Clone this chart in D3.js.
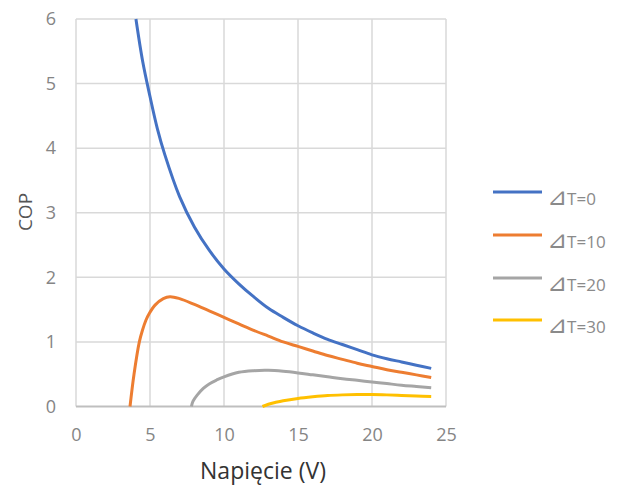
<!DOCTYPE html>
<html><head><meta charset="utf-8">
<script src="https://cdn.jsdelivr.net/npm/d3@7"></script>
<style>body{margin:0;background:#fff}svg{display:block}</style>
</head><body><svg id="c" width="628" height="489"></svg>
<script>
const seriesNames = ["⊿T=0", "⊿T=10", "⊿T=20", "⊿T=30"];
const seriesColors = ["#4472C4", "#ED7D31", "#A5A5A5", "#FFC000"];
const xTicks = [0, 5, 10, 15, 20, 25];
const yTicks = [0, 1, 2, 3, 4, 5, 6];
const xTitle = "Napięcie (V)";
const yTitle = "COP";

const v0 = [4.05, 4.5, 5, 5.5, 6, 7, 8, 9, 10, 11, 12, 13, 14, 15, 16, 17, 18, 19, 20, 21, 22, 23, 24];
const cop0 = [6.00, 5.35, 4.80, 4.30, 3.90, 3.25, 2.78, 2.42, 2.13, 1.90, 1.70, 1.52, 1.38, 1.25, 1.14, 1.04, 0.96, 0.88, 0.80, 0.74, 0.69, 0.64, 0.59];

const v10 = [3.65, 3.92, 4.28, 4.49, 4.73, 4.95, 5.34, 5.9, 6.35, 7, 8, 9, 10, 11, 12, 13, 14, 15, 16, 17, 18, 19, 20, 21, 22, 23, 24];
const cop10 = [0, 0.5, 1.0, 1.18, 1.34, 1.44, 1.57, 1.67, 1.70, 1.67, 1.58, 1.48, 1.38, 1.28, 1.18, 1.09, 1.00, 0.93, 0.86, 0.79, 0.73, 0.67, 0.62, 0.57, 0.53, 0.49, 0.45];

const v20 = [7.8, 7.9, 8.2, 8.6, 9, 9.5, 10, 11, 12, 13, 14, 15, 16, 17, 18, 19, 20, 21, 22, 23, 24];
const cop20 = [0, 0.08, 0.18, 0.28, 0.35, 0.41, 0.46, 0.53, 0.555, 0.56, 0.545, 0.52, 0.49, 0.46, 0.43, 0.405, 0.38, 0.355, 0.33, 0.31, 0.29];

const v30 = [12.6, 13, 13.5, 14, 15, 16, 17, 18, 19, 20, 21, 22, 23, 24];
const cop30 = [0, 0.035, 0.065, 0.09, 0.125, 0.15, 0.17, 0.18, 0.185, 0.185, 0.18, 0.172, 0.163, 0.155];

const seriesX = [v0, v10, v20, v30];
const seriesY = [cop0, cop10, cop20, cop30];

const svg = d3.select("#c");
const x = d3.scaleLinear().domain([0, 25]).range([76, 446]);
const y = d3.scaleLinear().domain([0, 6]).range([406.5, 19]);
const font = "'Open Sans', sans-serif";

// grid
svg.append("g").selectAll("line").data(yTicks.filter(d => d > 0)).join("line")
  .attr("x1", x(0)).attr("x2", x(25)).attr("y1", d => y(d)).attr("y2", d => y(d))
  .attr("stroke", "#d9d9d9").attr("stroke-width", 1.5);
svg.append("g").selectAll("line").data(xTicks).join("line")
  .attr("x1", d => x(d)).attr("x2", d => x(d)).attr("y1", y(0)).attr("y2", y(6))
  .attr("stroke", "#d9d9d9").attr("stroke-width", 1.5);
svg.append("line").attr("x1", x(0)).attr("x2", x(25)).attr("y1", y(0)).attr("y2", y(0))
  .attr("stroke", "#bfbfbf").attr("stroke-width", 1.8);

// tick labels via axes
const xAxis = svg.append("g").attr("transform", `translate(0,${y(0)})`)
  .call(d3.axisBottom(x).tickValues(xTicks).tickFormat(d3.format("d")).tickSize(0).tickPadding(22));
xAxis.select(".domain").remove();
xAxis.selectAll("text").attr("fill", "#858585").style("font", `18px ${font}`);

const yAxis = svg.append("g").attr("transform", `translate(${x(0)},0)`)
  .call(d3.axisLeft(y).tickValues(yTicks).tickFormat(d3.format("d")).tickSize(0).tickPadding(20));
yAxis.select(".domain").remove();
yAxis.selectAll("text").attr("fill", "#858585").style("font", `18px ${font}`);

// lines
const line = d3.line().x(d => x(d[0])).y(d => y(d[1])).curve(d3.curveCatmullRom.alpha(0.5));
seriesX.forEach((xs, i) => {
  const pts = xs.map((v, j) => [v, seriesY[i][j]]);
  svg.append("path").datum(pts).attr("d", line)
    .attr("fill", "none").attr("stroke", seriesColors[i]).attr("stroke-width", 3)
    .attr("stroke-linejoin", "round");
});

// titles
svg.append("text").attr("x", 263).attr("y", 479).attr("text-anchor", "middle")
  .attr("fill", "#333").style("font", `23px ${font}`).text(xTitle);
svg.append("text").attr("transform", "translate(32,212) rotate(-90)").attr("text-anchor", "middle")
  .attr("fill", "#555").style("font", `19px ${font}`).text(yTitle);

// legend
const legY = [192, 235, 278, 320];
seriesNames.forEach((n, i) => {
  svg.append("line").attr("x1", 493).attr("x2", 542).attr("y1", legY[i]).attr("y2", legY[i])
    .attr("stroke", seriesColors[i]).attr("stroke-width", 3);
  const t = svg.append("text").attr("x", 547).attr("y", legY[i] + 13).attr("fill", "#8a8a8a")
    .style("font", `17px ${font}`);
  t.append("tspan").style("font-family", "'DejaVu Sans'").style("font-size", "24px").text(n.slice(0, 1));
  t.append("tspan").text(n.slice(1));
});
</script></body></html>
